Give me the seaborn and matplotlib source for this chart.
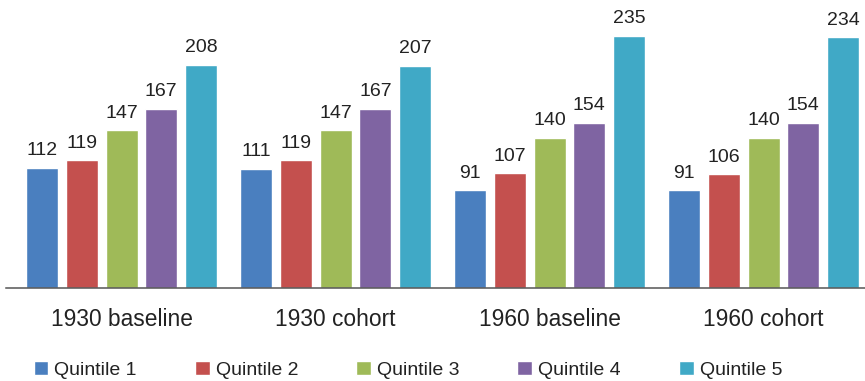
import matplotlib
matplotlib.use("Agg")
import matplotlib.pyplot as plt
import pandas as pd
import seaborn as sns

# Average values by income quintile for each scenario
scenarios = ["1930 baseline", "1930 cohort", "1960 baseline", "1960 cohort"]
quintiles = ["Quintile 1", "Quintile 2", "Quintile 3", "Quintile 4", "Quintile 5"]
q1 = [112, 111, 91, 91]
q2 = [119, 119, 107, 106]
q3 = [147, 147, 140, 140]
q4 = [167, 167, 154, 154]
q5 = [208, 207, 235, 234]
colors = ["#4a7fbf", "#c4504e", "#9fba58", "#7f64a2", "#40a9c6"]

rows = []
for name, vals in zip(quintiles, [q1, q2, q3, q4, q5]):
    for sc, v in zip(scenarios, vals):
        rows.append({"scenario": sc, "quintile": name, "value": v})
df = pd.DataFrame(rows)

sns.set_style("white")
plt.rcParams["font.family"] = ["Liberation Sans", "DejaVu Sans"]

W, H = 865, 381
fig = plt.figure(figsize=(W / 100, H / 100), dpi=100)
base_y = 287.7
ax = fig.add_axes([6 / W, (H - base_y) / H, 859 / W, base_y / H])

sns.barplot(data=df, x="scenario", y="value", hue="quintile",
            order=scenarios, hue_order=quintiles, palette=colors,
            width=0.93, gap=0.196, saturation=1, errorbar=None, ax=ax)

for cont in ax.containers:
    ax.bar_label(cont, fmt="%d", padding=6.0, fontsize=14, color="#222222")

ax.set_xlim(-0.5397, 3.474)
ax.set_ylim(0, base_y / 1.072)
ax.set_xlabel("")
ax.set_ylabel("")
ax.set_yticks([])
ax.tick_params(axis="x", length=0, pad=14.5, labelsize=16.4, labelcolor="#222222")
for s in ["top", "left", "right"]:
    ax.spines[s].set_visible(False)
ax.spines["bottom"].set_color("#555555")
ax.spines["bottom"].set_linewidth(1.1)

handles, labels = ax.get_legend_handles_labels()
if ax.get_legend() is not None:
    ax.get_legend().remove()
fig.legend(handles, labels, loc="center left", bbox_to_anchor=(33.5 / W, (H - 370) / H),
           ncol=5, frameon=False, fontsize=14, handlelength=0.77, handleheight=0.7,
           handletextpad=0.31, columnspacing=2.97, borderpad=0, borderaxespad=0,
           labelcolor="#222222")

fig.savefig("out.png", dpi=100)
